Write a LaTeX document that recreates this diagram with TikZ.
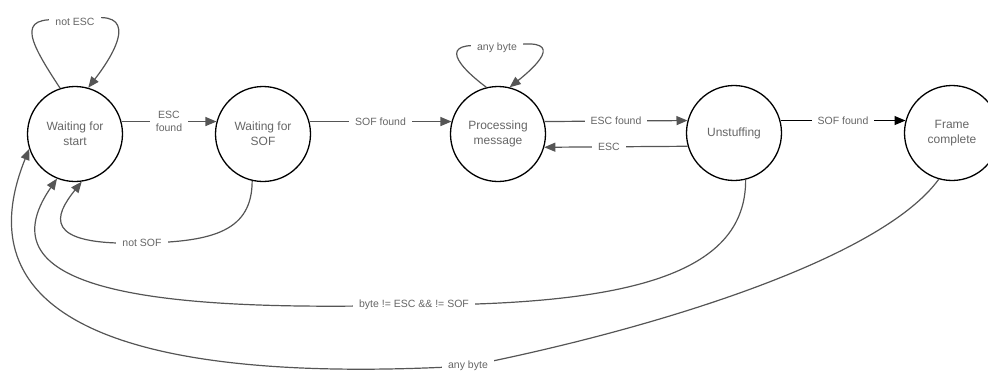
\documentclass[tikz,border=0pt]{standalone}
\usepackage{fontspec}
\setmainfont{Liberation Sans}
\usetikzlibrary{arrows.meta}
\definecolor{edgec}{HTML}{555555}
\definecolor{txtc}{HTML}{666666}
\begin{document}
\begin{tikzpicture}[x=1pt,y=-1pt,
 state/.style={circle,draw=black,line width=1.3pt,minimum size=95pt,inner sep=0pt,font=\fontsize{12}{15}\selectfont,text=txtc,align=center},
 edge/.style={draw=edgec,line width=1.2pt},
 arr/.style={edge,-{Triangle[length=11pt,width=9pt]}},
 lbl/.style={fill=white,text=txtc,font=\fontsize{10.5}{13}\selectfont,align=center,inner xsep=6pt,inner ysep=3pt}]
\useasboundingbox (0,0) rectangle (988,372);
\node[state] (A) at (75,134) {Waiting for\\start};
\node[state] (B) at (263,134) {Waiting for\\SOF};
\node[state] (C) at (498,134) {Processing\\message};
\node[state] (D) at (734,133) {Unstuffing};
\node[state] (E) at (952,133) {Frame\\complete};

\draw[arr] (A.15) -- node[lbl]{ESC\\found} (B.165);
\draw[arr] (B.15) -- node[lbl]{SOF found} (C.165);
\draw[arr] (C.15) -- node[lbl]{ESC found} (D.165);
\draw[arr] (D.196) -- node[lbl,pos=0.55]{ESC} (C.-16);
\draw[arr,draw=black] (D.15) -- node[lbl]{SOF found} (E.165);

\draw[arr] (A.108) .. controls (25,35) and (15,12) .. (75,22) node[lbl]{not ESC} .. controls (135,5) and (125,40) .. (A.74);
\draw[arr] (C.104) .. controls (450,60) and (440,38) .. (497,48) node[lbl]{any byte} .. controls (560,35) and (550,55) .. (C.76);

\draw[arr] (B.257) .. controls (252,230) and (215,242) .. (142,243) node[lbl]{not SOF} .. controls (40,246) and (55,215) .. (A.-82);
\draw[arr] (D.-76) .. controls (746,270) and (640,305) .. (414,305) node[lbl]{byte != ESC \&\& != SOF} .. controls (150,312) and (-20,290) .. (A.-112);
\draw[arr] (E.-106) .. controls (880,260) and (650,330) .. (468,366) node[lbl]{any byte} .. controls (130,385) and (-40,320) .. (A.-162);
\end{tikzpicture}
\end{document}
